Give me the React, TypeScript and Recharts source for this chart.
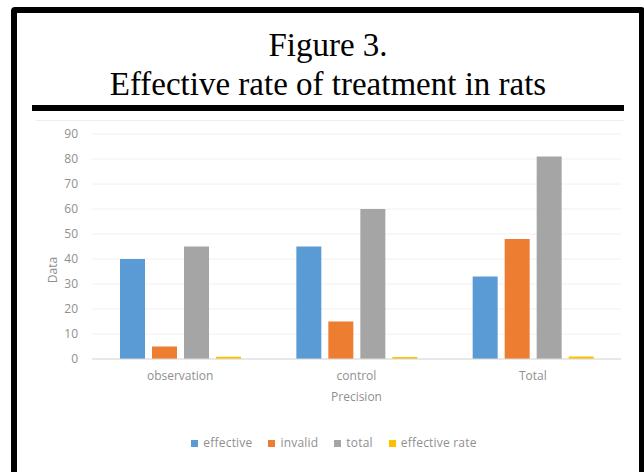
import { BarChart, Bar, XAxis, YAxis, CartesianGrid, Legend } from 'recharts'

const CATEGORIES = ['observation', 'control', 'Total']
const EFFECTIVE = [40, 45, 33]
const INVALID = [5, 15, 48]
const TOTAL = [45, 60, 81]
const EFFECTIVE_RATE = [0.9, 0.8, 1.0]
const Y_TICKS = [0, 10, 20, 30, 40, 50, 60, 70, 80, 90]

const SERIES = [
  { key: 'effective', name: 'effective', color: '#5B9BD5' },
  { key: 'invalid', name: 'invalid', color: '#ED7D31' },
  { key: 'total', name: 'total', color: '#A5A5A5' },
  { key: 'effectiveRate', name: 'effective rate', color: '#FFC000' },
]

const data = CATEGORIES.map((c, i) => ({
  name: c,
  effective: EFFECTIVE[i],
  invalid: INVALID[i],
  total: TOTAL[i],
  effectiveRate: EFFECTIVE_RATE[i],
}))

const FONT = '"Open Sans", "Noto Sans", sans-serif'
const GREY = '#8f8f8f'

function LegendRow(): JSX.Element {
  return (
    <div style={{ display: 'flex', justifyContent: 'center', alignItems: 'center', fontFamily: FONT, fontSize: 12, color: GREY, lineHeight: '16px', letterSpacing: 0.2 }}>
      {SERIES.map((s) => (
        <span key={s.key} style={{ display: 'inline-flex', alignItems: 'center', margin: '0 8px' }}>
          <span style={{ width: 7, height: 7, background: s.color, marginRight: 5, display: 'inline-block' }} />
          {s.name}
        </span>
      ))}
    </div>
  )
}

function DataLabel(): JSX.Element {
  return (
    <text x={52} y={270} transform="rotate(-90, 52, 270)" textAnchor="middle" dominantBaseline="central"
      style={{ fontFamily: FONT, fontSize: 12, fill: GREY }}>
      Data
    </text>
  )
}

export default function App(): JSX.Element {
  return (
    <div style={{ position: 'absolute', left: 0, top: 0, width: 644, height: 472, overflow: 'hidden', background: '#fff' }}>
      <div style={{ position: 'absolute', left: 11, top: 7, width: 634, height: 480, border: '6px solid #000', borderRadius: 4, boxSizing: 'border-box' }} />
      <div style={{ position: 'absolute', left: 11, width: 634, top: 29, textAlign: 'center', fontFamily: '"Liberation Serif", serif', fontSize: 33, lineHeight: '32px', color: '#000' }}>
        Figure 3.
      </div>
      <div style={{ position: 'absolute', left: 11, width: 634, top: 68, textAlign: 'center', fontFamily: '"Liberation Serif", serif', fontSize: 33, lineHeight: '32px', color: '#000' }}>
        Effective rate of treatment in rats
      </div>
      <div style={{ position: 'absolute', left: 32, top: 105, width: 592, height: 6, background: '#000' }} />
      <div style={{ position: 'absolute', left: 36, top: 120, width: 588, height: 1, background: '#eeeeee' }} />
      <div style={{ position: 'absolute', left: 0, top: 0 }}>
        <BarChart width={644} height={472} data={data} barSize={25} barGap={7}
          margin={{ top: 134, right: 23, bottom: 69, left: 42 }}>
          <CartesianGrid vertical={false} stroke="#f0f0f0" />
          <XAxis dataKey="name" height={44} tickLine={false} axisLine={{ stroke: '#d9d9d9' }} tickMargin={6}
            tick={{ fontFamily: FONT, fontSize: 12, fill: GREY }}
            label={{ value: 'Precision', position: 'insideBottom', offset: 2, style: { fontFamily: FONT, fontSize: 12, fill: GREY } }} />
          <YAxis width={50} domain={[0, 90]} ticks={Y_TICKS} interval={0} tickLine={false} axisLine={false} tickMargin={8}
            tick={{ fontFamily: FONT, fontSize: 12, fill: GREY }} label={<DataLabel />} />
          <Legend layout="vertical" align="center" verticalAlign="middle"
            wrapperStyle={{ left: 24, top: 435, width: 620 }} content={() => <LegendRow />} />
          {SERIES.map((s) => (
            <Bar key={s.key} dataKey={s.key} name={s.name} fill={s.color} isAnimationActive={false} />
          ))}
        </BarChart>
      </div>
    </div>
  )
}
